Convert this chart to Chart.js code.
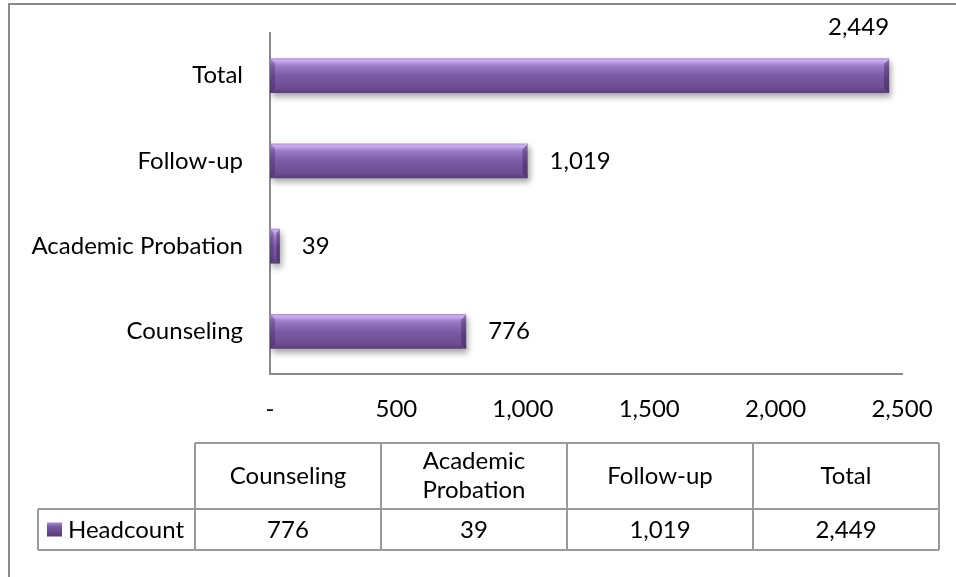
<!DOCTYPE html>
<html><head><meta charset="utf-8">
<script src="https://cdn.jsdelivr.net/npm/chart.js@4/dist/chart.umd.min.js"></script>
<style>html,body{margin:0;padding:0;background:#fff}#wrap{width:956px;height:577px;position:relative}</style>
</head><body><div id="wrap"><canvas id="c"></canvas></div>
<script>
// ---- data ----
const categories = ['Counseling', 'Academic Probation', 'Follow-up', 'Total'];
const tableHeaders = [['Counseling'], ['Academic', 'Probation'], ['Follow-up'], ['Total']];
const seriesName = 'Headcount';
const headcount = [776, 39, 1019, 2449];
const xMin = 0, xMax = 2500, xStep = 500;

// ---- styling helpers ----
const FONT = 'Lato';
const FSIZE = 24;
const GRAY = '#8a8a8a';
const fmt = v => v === 0 ? '-' : Number(v).toLocaleString('en-US');

function barFill(ctx) {
  const chart = ctx.chart;
  if (!chart.chartArea || ctx.type !== 'data' || !chart.scales.y) return '#7b5aa3';
  const yc = chart.scales.y.getPixelForValue(ctx.dataIndex);
  const h = 35;
  const g = chart.ctx.createLinearGradient(0, yc - h / 2, 0, yc + h / 2);
  g.addColorStop(0, '#a98cd0');
  g.addColorStop(0.07, '#cdaef5');
  g.addColorStop(0.22, '#9a7bc6');
  g.addColorStop(0.5, '#7c5aa5');
  g.addColorStop(0.85, '#6c4d92');
  g.addColorStop(1, '#563c78');
  return g;
}

const shadowPlugin = {
  id: 'barShadow',
  beforeDatasetDraw(chart) {
    const c = chart.ctx; c.save();
    c.shadowColor = 'rgba(0,0,0,0.35)'; c.shadowBlur = 6; c.shadowOffsetX = 2; c.shadowOffsetY = 4;
  },
  afterDatasetDraw(chart) { chart.ctx.restore(); }
};

const bevelAndLabels = {
  id: 'bevelLabels',
  afterDatasetsDraw(chart) {
    const c = chart.ctx;
    const meta = chart.getDatasetMeta(0);
    meta.data.forEach((el, i) => {
      const p = el.getProps(['x', 'y', 'base', 'height'], true);
      const l = Math.min(p.x, p.base), r = Math.max(p.x, p.base);
      const t = p.y - p.height / 2, b = p.y + p.height / 2;
      const bw = Math.min(5, (r - l) / 3);
      c.save();
      c.fillStyle = 'rgba(50,25,80,0.30)';
      c.beginPath(); c.moveTo(l, t); c.lineTo(l + bw, t + bw); c.lineTo(l + bw, b - bw); c.lineTo(l, b); c.closePath(); c.fill();
      c.fillStyle = 'rgba(50,25,80,0.40)';
      c.beginPath(); c.moveTo(r, t); c.lineTo(r - bw, t + bw); c.lineTo(r - bw, b - bw); c.lineTo(r, b); c.closePath(); c.fill();
      c.strokeStyle = 'rgba(230,215,255,0.7)'; c.lineWidth = 1;
      c.beginPath(); c.moveTo(r - bw, t + bw); c.lineTo(r, t); c.stroke();
      c.restore();

      const txt = fmt(headcount[i]);
      c.save();
      c.font = FSIZE + 'px ' + FONT;
      c.fillStyle = '#000';
      const w = c.measureText(txt).width;
      if (r + 22 + w > chart.chartArea.right + 10) {
        c.textAlign = 'right'; c.textBaseline = 'middle';
        c.fillText(txt, r, p.y - 48);
      } else {
        c.textAlign = 'left'; c.textBaseline = 'middle';
        c.fillText(txt, r + 22, p.y);
      }
      c.restore();
    });
  }
};

const tablePlugin = {
  id: 'dataTable',
  afterDraw(chart) {
    const c = chart.ctx;
    const colX = [195, 381, 567, 753, 939];
    const legendLeft = 38;
    const rowY = [443, 509, 550];
    c.save();
    c.strokeStyle = GRAY; c.lineWidth = 2;
    c.beginPath(); c.moveTo(9, 577); c.lineTo(9, 4); c.lineTo(956, 4); c.stroke();

    c.strokeStyle = '#9a9a9a'; c.lineWidth = 2;
    c.beginPath();
    c.moveTo(colX[0], rowY[0]); c.lineTo(colX[4], rowY[0]);
    c.moveTo(legendLeft, rowY[1]); c.lineTo(colX[4], rowY[1]);
    c.moveTo(legendLeft, rowY[2]); c.lineTo(colX[4], rowY[2]);
    colX.forEach(x => { c.moveTo(x, rowY[0]); c.lineTo(x, rowY[2]); });
    c.moveTo(legendLeft, rowY[1]); c.lineTo(legendLeft, rowY[2]);
    c.stroke();

    c.fillStyle = '#000';
    c.font = FSIZE + 'px ' + FONT;
    c.textAlign = 'center'; c.textBaseline = 'middle';
    tableHeaders.forEach((lines, i) => {
      const cx = (colX[i] + colX[i + 1]) / 2;
      const cy = (rowY[0] + rowY[1]) / 2;
      const lh = 29;
      lines.forEach((ln, k) => {
        c.fillText(ln, cx, cy + (k - (lines.length - 1) / 2) * lh);
      });
      c.fillText(fmt(headcount[i]), cx, (rowY[1] + rowY[2]) / 2 + 1);
    });
    const ky = (rowY[1] + rowY[2]) / 2;
    const g = c.createLinearGradient(0, ky - 7, 0, ky + 7);
    g.addColorStop(0, '#a888d6'); g.addColorStop(0.3, '#7a5aa5'); g.addColorStop(1, '#553a78');
    c.fillStyle = g;
    c.fillRect(47, ky - 7, 15, 14);
    c.fillStyle = '#000';
    c.textAlign = 'left';
    c.fillText(seriesName, 68, ky + 1);
    c.restore();
  }
};

new Chart(document.getElementById('c'), {
  type: 'bar',
  data: {
    labels: categories,
    datasets: [{
      label: seriesName,
      data: headcount,
      backgroundColor: barFill,
      borderWidth: 0,
      categoryPercentage: 0.41,
      barPercentage: 1
    }]
  },
  options: {
    indexAxis: 'y',
    responsive: true,
    maintainAspectRatio: false,
    animation: false,
    layout: { padding: { left: 0, top: 33, right: 54, bottom: 143 } },
    plugins: { legend: { display: false }, tooltip: { enabled: false } },
    scales: {
      x: {
        min: xMin, max: xMax,
        grid: { display: false, drawTicks: false },
        border: { display: true, color: GRAY, width: 2 },
        ticks: {
          stepSize: xStep, padding: 21, color: '#000',
          font: { family: FONT, size: FSIZE },
          maxRotation: 0, autoSkip: false,
          callback: v => fmt(v)
        },
        afterFit(s) { s.height = 60; s.paddingLeft = 0; s.paddingRight = 0; }
      },
      y: {
        reverse: true,
        grid: { display: false, drawTicks: false },
        border: { display: true, color: GRAY, width: 2 },
        ticks: { padding: 27, color: '#000', font: { family: FONT, size: FSIZE } },
        afterFit(s) { s.width = 270; s.paddingTop = 0; s.paddingBottom = 0; }
      }
    }
  },
  plugins: [shadowPlugin, bevelAndLabels, tablePlugin]
});
</script>
</body></html>
